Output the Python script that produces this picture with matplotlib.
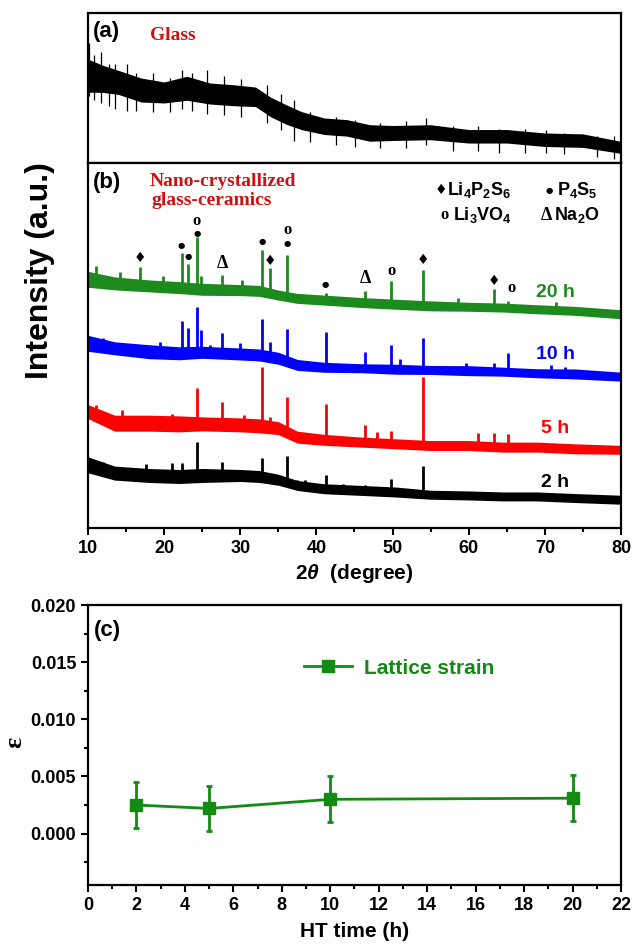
import matplotlib
matplotlib.use("Agg")
import matplotlib.pyplot as plt
from matplotlib.ticker import MultipleLocator, FormatStrFormatter

plt.rcParams['font.family'] = ['Liberation Sans', 'DejaVu Sans']
plt.rcParams['font.weight'] = 'bold'
plt.rcParams['mathtext.fontset'] = 'custom'
plt.rcParams['mathtext.rm'] = 'Liberation Sans:bold'
plt.rcParams['mathtext.bf'] = 'Liberation Sans:bold'
plt.rcParams['mathtext.it'] = 'Liberation Sans:italic'

# ---- (a) glass pattern: band centre / half width
glass_x = [10, 12, 14, 17, 20, 23, 26, 29, 32, 34, 36, 38, 41, 44, 47, 50, 55, 60, 65, 70, 75, 80]
glass_c = [0.584, 0.562, 0.539, 0.488, 0.472, 0.50, 0.465, 0.454, 0.443, 0.375, 0.326, 0.285,
           0.247, 0.236, 0.202, 0.202, 0.207, 0.18, 0.18, 0.157, 0.151, 0.106]
glass_w = [0.11, 0.09, 0.08, 0.08, 0.07, 0.08, 0.07, 0.07, 0.065, 0.065, 0.065, 0.06,
           0.055, 0.055, 0.055, 0.05, 0.05, 0.045, 0.045, 0.045, 0.045, 0.04]
glass_spike_x = [10.1, 10.8, 11.7, 12.8, 13.6, 15.1, 16.3, 18.6, 20.8, 22.4, 23.6, 25.6, 27.9,
                 30.1, 33.5, 35.4, 37.0, 39.2, 42.6, 45.1, 48.3, 51.7, 54.4, 57.9, 61.2, 64.0,
                 67.4, 70.2, 72.5, 76.8, 79.1]
glass_spike_lo = [0.45, 0.42, 0.40, 0.38, 0.36, 0.35, 0.35, 0.34, 0.34, 0.36, 0.35, 0.33, 0.32,
                  0.31, 0.27, 0.22, 0.15, 0.14, 0.12, 0.11, 0.10, 0.10, 0.12, 0.08, 0.08, 0.07,
                  0.07, 0.07, 0.06, 0.04, 0.03]
glass_spike_hi = [0.80, 0.72, 0.74, 0.66, 0.66, 0.66, 0.60, 0.60, 0.57, 0.62, 0.60, 0.62, 0.58,
                  0.56, 0.52, 0.46, 0.42, 0.34, 0.31, 0.29, 0.27, 0.28, 0.30, 0.25, 0.25, 0.23,
                  0.23, 0.22, 0.20, 0.18, 0.18]

# ---- (b) glass-ceramic patterns (baseline band + peaks)
base_x = [10, 13.5, 18, 22, 25, 30, 32.5, 35, 37.5, 41, 46, 50.5, 55, 60, 64.5, 69, 74, 80]
c20 = [248.8, 244.7, 242.2, 240.5, 238.8, 238, 237.2, 233, 229.7, 228, 225.5, 223.8, 222.2,
       221.3, 220.5, 218.8, 217.2, 213.8]
w20 = [8, 6.5, 6, 6, 6, 5.5, 5.5, 5, 5, 5, 5, 5, 5, 4.5, 4.5, 4.5, 4.5, 4.5]
c10 = [184.7, 179.7, 176.3, 174.7, 175.7, 174, 173, 169.7, 163, 160.7, 159.7, 158.7, 158,
       157.3, 156.3, 154.7, 154, 151.3]
w10 = [8, 6.5, 7, 6.5, 6, 6, 6, 6, 5.5, 5, 4.5, 5, 4.5, 5, 4.5, 4.5, 5, 4.5]
c5 = [116.3, 104.7, 104.7, 104, 104, 103, 102, 99.7, 90.7, 88, 85.7, 84, 82.3, 82.3, 80.7,
      80.7, 79, 78]
w5 = [7, 8, 8, 8, 7, 7, 7, 6.5, 6, 5.5, 5, 5, 5, 5, 5, 5, 5, 4.5]
c2 = [63, 54.7, 52.3, 51.3, 52.3, 52.3, 51.3, 48, 42.3, 39, 37.3, 35.7, 33, 32.3, 31.3,
      31.3, 29.7, 28]
w2 = [8, 7, 7, 7, 7, 6, 6, 5.5, 5, 5, 5, 5, 4.5, 4.5, 4.5, 4.5, 4.5, 4.5]

p20_x = [11.0, 14.2, 16.8, 19.8, 22.3, 23.1, 24.3, 24.9, 27.6, 30.2, 32.9, 33.9, 36.2, 41.2,
         46.4, 49.8, 54.0, 58.6, 63.3, 65.2, 71.5]
p20_top = [262, 256, 261, 252, 275, 264, 291, 252, 253, 248, 278, 260, 273, 235, 237, 247,
           258, 230, 239, 227, 226]
p20_base = [246, 243, 242, 241, 240, 240, 239, 239, 238, 238, 237, 236, 231, 228, 225, 224,
            222, 221, 220, 220, 218]
p10_x = [12.0, 19.5, 22.3, 23.1, 24.3, 24.9, 26.0, 27.6, 30.0, 32.9, 33.9, 36.2, 41.2, 46.4,
         49.8, 51.0, 54.0, 59.6, 63.3, 65.2, 70.8, 72.7]
p10_top = [190, 186, 207, 200, 221, 198, 183, 195, 185, 209, 186, 199, 196, 176, 183, 169,
           190, 165, 165, 175, 163, 161]
p10_base = [181, 176, 175, 175, 175, 175, 176, 175, 174, 174, 172, 167, 161, 160, 159, 158,
            158, 157, 156, 156, 155, 154]
p5_x = [11.0, 14.5, 21.0, 24.3, 27.6, 30.5, 32.9, 33.9, 36.2, 41.2, 46.4, 48.0, 49.8, 54.0,
        61.2, 63.3, 65.2]
p5_top = [123, 118, 114, 140, 126, 113, 161, 111, 131, 124, 103, 96, 97, 151, 95, 95, 94]
p5_base = [112, 105, 104, 104, 104, 103, 102, 101, 97, 88, 86, 85, 84, 83, 82, 81, 81]
p2_x = [12.0, 17.6, 21.0, 22.3, 24.3, 27.6, 32.9, 36.2, 37.5, 38.5, 41.2, 43.5, 46.4, 49.8, 54.0]
p2_top = [66, 64, 65, 65, 86, 66, 70, 72, 48, 48, 53, 44, 43, 49, 62]
p2_base = [58, 52, 51, 51, 52, 52, 51, 46, 42, 41, 39, 38, 37, 36, 33]

times = ['20 h', '10 h', '5 h', '2 h']
colors = ['#1c8a1c', '#0000ff', '#ff0000', '#000000']
label_y = [236, 173, 99, 45]

# phase marks above the 20 h peaks
mark_sym = ['♦', '●', '●', '●', 'o', 'Δ', '●', '♦', '●', 'o', '●', 'Δ', 'o', '♦', '♦', 'o']
mark_x = [16.8, 22.3, 23.1, 24.3, 24.3, 27.6, 32.9, 33.9, 36.2, 36.2, 41.2, 46.4, 49.8, 54.0, 63.3, 65.6]
mark_y = [270, 283, 272, 295, 307, 265, 287, 267, 285, 298, 244, 250, 257, 268, 247, 240]

# ---- (c) lattice strain
ht_time = [2, 5, 10, 20]
strain = [0.0025, 0.0022, 0.0030, 0.0031]
strain_err = [0.0020, 0.0020, 0.0020, 0.0020]

green = '#138a13'
dark_red = '#cc1111'

fig = plt.figure(figsize=(6.32, 9.44), dpi=100)
L, W = 0.1392, 0.8434
ax_a = fig.add_axes([L, 0.827, W, 0.159])
ax_b = fig.add_axes([L, 0.441, W, 0.386])
ax_c = fig.add_axes([L, 0.0625, W, 0.2965])

for ax in (ax_a, ax_b, ax_c):
    for s in ax.spines.values():
        s.set_linewidth(1.6)

# panel (a)
ax_a.fill_between(glass_x, [c - w for c, w in zip(glass_c, glass_w)],
                  [c + w for c, w in zip(glass_c, glass_w)], color='black', lw=0)
ax_a.vlines(glass_spike_x, glass_spike_lo, glass_spike_hi, color='black', lw=0.9)
ax_a.set_xlim(10, 80)
ax_a.set_ylim(0, 1)
ax_a.set_xticks([])
ax_a.set_yticks([])
ax_a.text(10.6, 0.876, '(a)', fontsize=16, fontweight='bold', va='center')
ax_a.text(18.1, 0.854, 'Glass', fontsize=14, fontweight='bold', color=dark_red,
          family='Liberation Serif', va='center')

# panel (b)
traces = [(c20, w20, p20_x, p20_top, p20_base), (c10, w10, p10_x, p10_top, p10_base),
          (c5, w5, p5_x, p5_top, p5_base), (c2, w2, p2_x, p2_top, p2_base)]
for (c, w, px, pt, pb), col, lab, ly in zip(traces, colors, times, label_y):
    ax_b.fill_between(base_x, [a - b for a, b in zip(c, w)], [a + b for a, b in zip(c, w)],
                      color=col, lw=0)
    ax_b.vlines(px, pb, pt, color=col, lw=2.0)
    ax_b.text(71.4, ly, lab, color=col, fontsize=14, fontweight='bold', ha='center', va='center')

for s, x, y in zip(mark_sym, mark_x, mark_y):
    if s == 'o':
        ax_b.text(x, y, s, fontsize=12, family='Liberation Serif', ha='center', va='center')
    elif s == 'Δ':
        ax_b.text(x, y, s, fontsize=13, family='Liberation Serif', ha='center', va='center')
    elif s == '●':
        ax_b.text(x, y, s, fontsize=6, family='DejaVu Sans', ha='center', va='center')
    else:
        ax_b.text(x, y, s, fontsize=10, family='DejaVu Sans', ha='center', va='center')

ax_b.text(10.6, 346, '(b)', fontsize=16, fontweight='bold', va='center')
ax_b.text(18.1, 347, 'Nano-crystallized', fontsize=14, fontweight='bold', color=dark_red,
          family='Liberation Serif', va='center')
ax_b.text(18.3, 328, 'glass-ceramics', fontsize=14, fontweight='bold', color=dark_red,
          family='Liberation Serif', va='center')

ax_b.text(56.4, 338, '♦', fontsize=10, family='DejaVu Sans', ha='center', va='center')
ax_b.text(57.1, 338, r'$\mathbf{Li_4P_2S_6}$', fontsize=13, va='center')
ax_b.text(70.6, 338, '●', fontsize=6, family='DejaVu Sans', ha='center', va='center')
ax_b.text(71.6, 338, r'$\mathbf{P_4S_5}$', fontsize=13, va='center')
ax_b.text(56.8, 313, 'o', fontsize=12, family='Liberation Serif', ha='center', va='center')
ax_b.text(57.9, 313, r'$\mathbf{Li_3VO_4}$', fontsize=13, va='center')
ax_b.text(70.2, 313, 'Δ', fontsize=13, family='Liberation Serif', ha='center', va='center')
ax_b.text(71.2, 313, r'$\mathbf{Na_2O}$', fontsize=13, va='center')

ax_b.set_xlim(10, 80)
ax_b.set_ylim(0, 365)
ax_b.set_yticks([])
ax_b.xaxis.set_major_locator(MultipleLocator(10))
ax_b.xaxis.set_minor_locator(MultipleLocator(5))
ax_b.tick_params(axis='x', which='both', direction='out', width=1.5, labelsize=13)
ax_b.tick_params(axis='x', which='major', length=5)
ax_b.tick_params(axis='x', which='minor', length=3)
ax_b.set_xlabel(r'2$\theta$  (degree)', fontsize=15, fontweight='bold', labelpad=4)

fig.text(0.063, 0.713, 'Intensity (a.u.)', rotation=90, fontsize=23, fontweight='bold',
         ha='center', va='center')

# panel (c)
ax_c.errorbar(ht_time, strain, yerr=strain_err, fmt='none', ecolor=green, elinewidth=2,
              capsize=2.5, capthick=2)
ax_c.plot(ht_time, strain, color=green, lw=2, marker='s', markersize=8, label='Lattice strain')
ax_c.set_xlim(0, 22)
ax_c.set_ylim(-0.0045, 0.020)
ax_c.xaxis.set_major_locator(MultipleLocator(2))
ax_c.xaxis.set_minor_locator(MultipleLocator(1))
ax_c.yaxis.set_major_locator(MultipleLocator(0.005))
ax_c.yaxis.set_minor_locator(MultipleLocator(0.0025))
ax_c.yaxis.set_major_formatter(FormatStrFormatter('%.3f'))
ax_c.tick_params(which='both', direction='out', width=1.5, labelsize=13)
ax_c.tick_params(which='major', length=5)
ax_c.tick_params(which='minor', length=3)
ax_c.set_xlabel('HT time (h)', fontsize=15, fontweight='bold', labelpad=6)
fig.text(0.024, 0.214, 'ε', rotation=90, fontsize=19, family='Liberation Serif',
         ha='center', va='center')
ax_c.text(0.25, 0.0178, '(c)', fontsize=16, fontweight='bold', va='center')
ax_c.legend(loc='center left', bbox_to_anchor=(0.405, 0.775), frameon=False, borderpad=0,
            borderaxespad=0, handlelength=2.3, handletextpad=0.6,
            prop={'size': 15, 'weight': 'bold'}, labelcolor=green)

fig.savefig('out.png', dpi=100)
